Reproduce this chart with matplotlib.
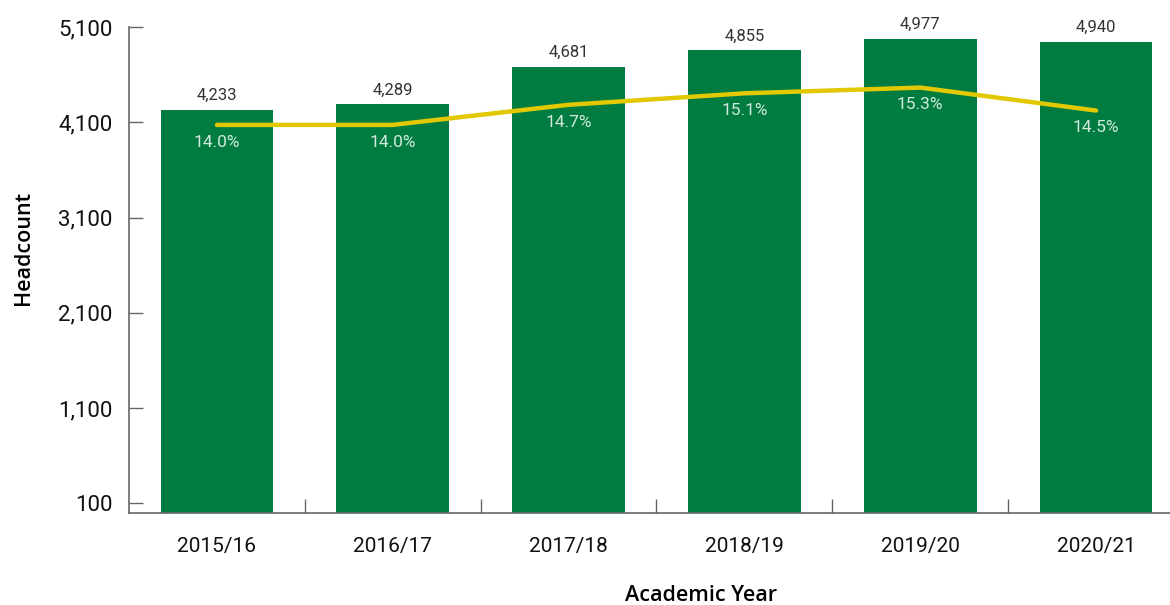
import matplotlib
matplotlib.use("Agg")
import matplotlib.pyplot as plt
from matplotlib.ticker import FixedLocator, FuncFormatter

years = ["2015/16", "2016/17", "2017/18", "2018/19", "2019/20", "2020/21"]
headcount = [4233, 4289, 4681, 4855, 4977, 4940]
share_pct = [14.0, 14.0, 14.7, 15.1, 15.3, 14.5]
y_ticks = [100, 1100, 2100, 3100, 4100, 5100]

plt.rcParams["font.family"] = ["Roboto", "DejaVu Sans"]

GREEN = "#007c41"
YELLOW = "#e2c800"
AXIS = "#666666"

fig = plt.figure(figsize=(11.7, 6.05), dpi=100)
ax = fig.add_axes([129 / 1170, 92 / 605, 1055 / 1170, 486 / 605])

x = list(range(len(years)))
bars = ax.bar(x, headcount, width=0.64, color=GREEN, zorder=2)
for b, v in zip(bars, headcount):
    ax.annotate(f"{v:,}", (b.get_x() + b.get_width() / 2, v), xytext=(0, 5),
                textcoords="offset points", ha="center", va="bottom",
                fontsize=12, color="#333333")

ax.set_xlim(-0.5, len(years) - 0.5)
ax.set_ylim(0, 5100)
ax.yaxis.set_major_locator(FixedLocator(y_ticks))
ax.yaxis.set_major_formatter(FuncFormatter(lambda v, _: f"{int(v):,}"))
ax.set_xticks(x)
ax.set_xticklabels(years)
ax.set_xticks([i + 0.5 for i in x[:-1]], minor=True)

ax.tick_params(axis="y", direction="in", length=10, width=1, color=AXIS,
               labelsize=16, pad=12, labelcolor="#111111")
ax.tick_params(axis="x", which="major", length=0, labelsize=15, pad=17,
               labelcolor="#111111")
ax.tick_params(axis="x", which="minor", direction="in", length=10, width=1, color=AXIS)

for s in ("top", "right"):
    ax.spines[s].set_visible(False)
for s in ("left", "bottom"):
    ax.spines[s].set_color(AXIS)
    ax.spines[s].set_linewidth(1.2)

label_font = dict(fontsize=15.5, fontweight=600, family=["Open Sans", "DejaVu Sans"])
ax.set_ylabel("Headcount", **label_font)
ax.yaxis.set_label_coords(-0.09, 0.545)
ax.set_xlabel("Academic Year", **label_font)
ax.xaxis.label.set_va("baseline")
ax.xaxis.set_label_coords(0.542, -0.181)

ax2 = ax.twinx()
ax2.set_ylim(0.48, 17.41)
ax2.plot(x, share_pct, color=YELLOW, lw=3.2, solid_capstyle="round",
         solid_joinstyle="round", zorder=3)
for xi, p in zip(x, share_pct):
    ax2.annotate(f"{p:.1f}%", (xi, p), xytext=(0, -7), textcoords="offset points",
                 ha="center", va="top", fontsize=12.5, color="#d3eadb")
ax2.axis("off")

fig.savefig("out.png", dpi=100)
